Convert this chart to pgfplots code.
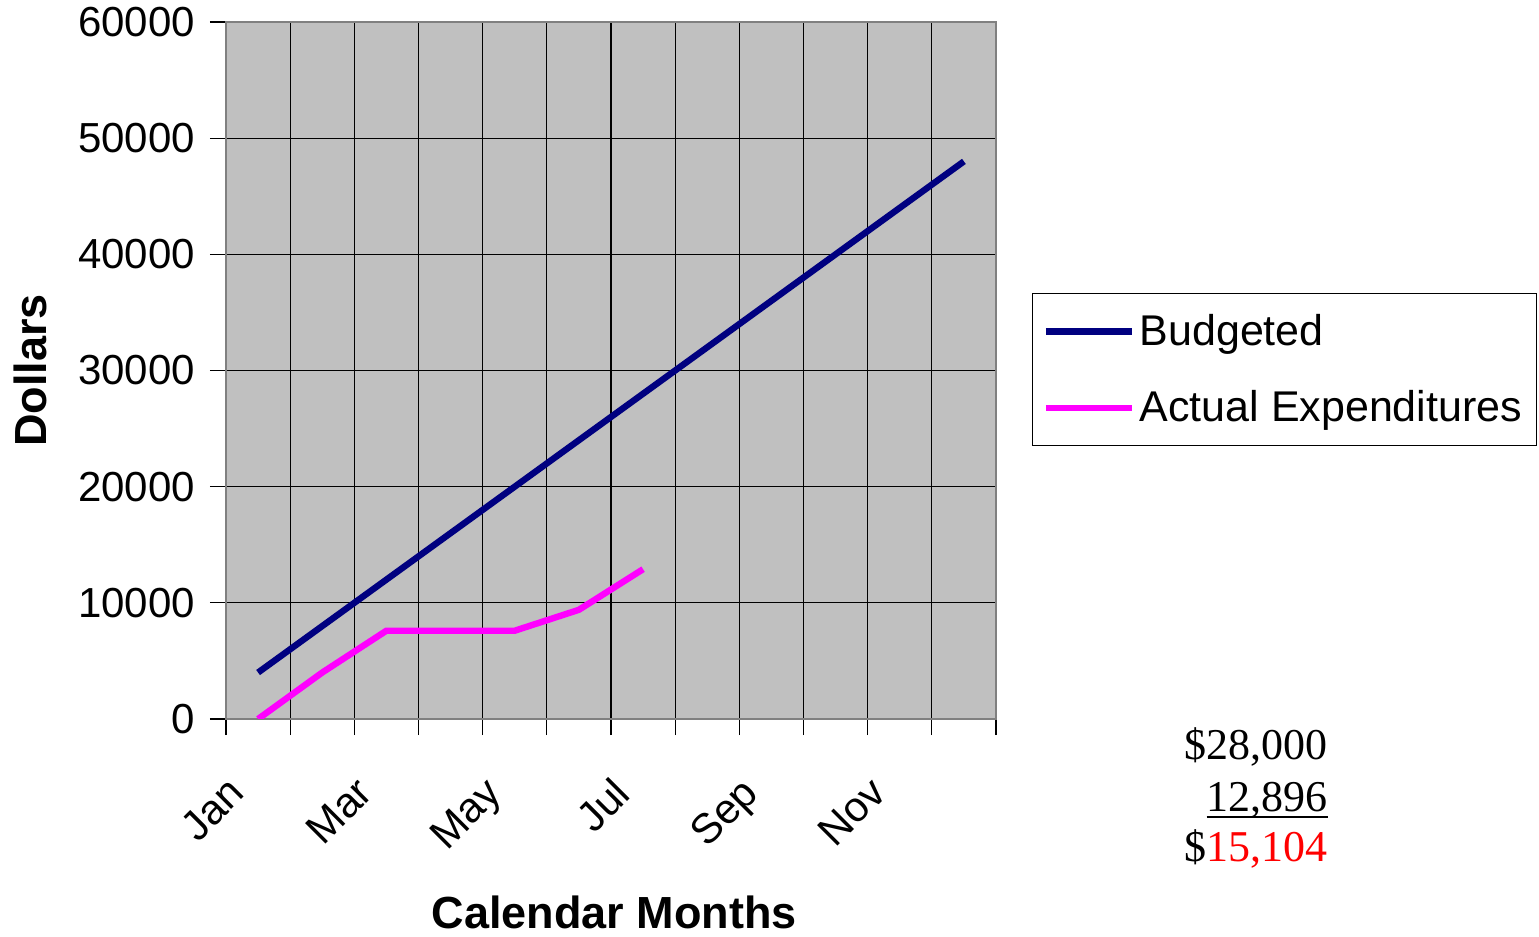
\documentclass[border=0pt]{standalone}
\usepackage{fontspec}
\setmainfont{Liberation Sans}
\newfontfamily\timesfont{Liberation Serif}
\usepackage{pgfplots}
\pgfplotsset{compat=1.18}
\definecolor{navyline}{RGB}{0,0,128}
\definecolor{pinkline}{RGB}{255,0,255}
\definecolor{plotgray}{RGB}{192,192,192}
\definecolor{framegray}{RGB}{128,128,128}
\begin{document}
\begin{tikzpicture}
\useasboundingbox (-113pt,-109pt) rectangle (656.5pt,359.5pt);
\begin{axis}[
  at={(0,0)}, anchor=south west,
  scale only axis, width=385pt, height=348.5pt,
  xmin=0.5, xmax=12.5, ymin=0, ymax=60000,
  xtick={1,3,5,7,9,11},
  xticklabels={Jan,Mar,May,Jul,Sep,Nov},
  minor xtick={0.5,1.5,...,12.5},
  ytick={0,10000,...,60000},
  xminorgrids=true, ymajorgrids=true,
  tick align=outside, xtick pos=bottom, ytick pos=left,
  major tick length=8pt, minor tick length=8pt,
  major x tick style={draw=none},
  tick style={black, line width=0.6pt},
  grid style={black, line width=0.6pt},
  minor grid style={black, line width=0.6pt},
  axis line style={framegray, line width=1.2pt},
  axis background/.style={fill=plotgray},
  font=\fontsize{21}{25}\selectfont,
  /pgf/number format/assume math mode=true,
  /pgf/number format/1000 sep={},
  scaled y ticks=false,
  yticklabel style={xshift=-4pt},
  xticklabel style={xshift=-16pt, yshift=-15pt, rotate=45, anchor=north east},
  xlabel={\fontsize{22.5}{26}\selectfont\bfseries Calendar Months},
  ylabel={\fontsize{22.5}{26}\selectfont\bfseries Dollars},
  xlabel style={at={(axis description cs:0.504,-0.278)}, anchor=center},
  ylabel style={at={(axis description cs:-0.2545,0.5)}, anchor=center},
  legend style={at={(rel axis cs:1.0468,0.611)}, anchor=north west,
    draw=black, fill=white, line width=0.6pt,
    inner xsep=5pt, inner ysep=8pt, row sep=16.5pt,
    font=\fontsize{21.5}{25}\selectfont,
    nodes={inner sep=2.3pt}},
  legend cell align=left,
  legend image code/.code={\draw[#1] (0pt,0pt) -- (43pt,0pt);},
]
\addplot[navyline, line width=3.2pt] coordinates {
  (1,4000) (2,8000) (3,12000) (4,16000) (5,20000) (6,24000)
  (7,28000) (8,32000) (9,36000) (10,40000) (11,44000) (12,48000)
};
\addlegendentry{Budgeted}
\addplot[pinkline, line width=3.2pt] coordinates {
  (1,0) (2,4000) (3,7600) (4,7600) (5,7600) (6,9400) (7,12896)
};
\addlegendentry{Actual Expenditures}
\end{axis}
\begin{scope}[every node/.style={anchor=base east, inner sep=0pt, font=\timesfont\fontsize{22}{26}\selectfont}]
\node at (551pt,-20.5pt) {\$28,000};
\node at (551pt,-46.5pt) {\setbox0=\hbox{12,896}\rlap{\raisebox{-3pt}{\rule{\wd0}{0.9pt}}}\box0};
\node at (551pt,-71.5pt) {\$\textcolor{red}{15,104}};
\end{scope}
\end{tikzpicture}
\end{document}
